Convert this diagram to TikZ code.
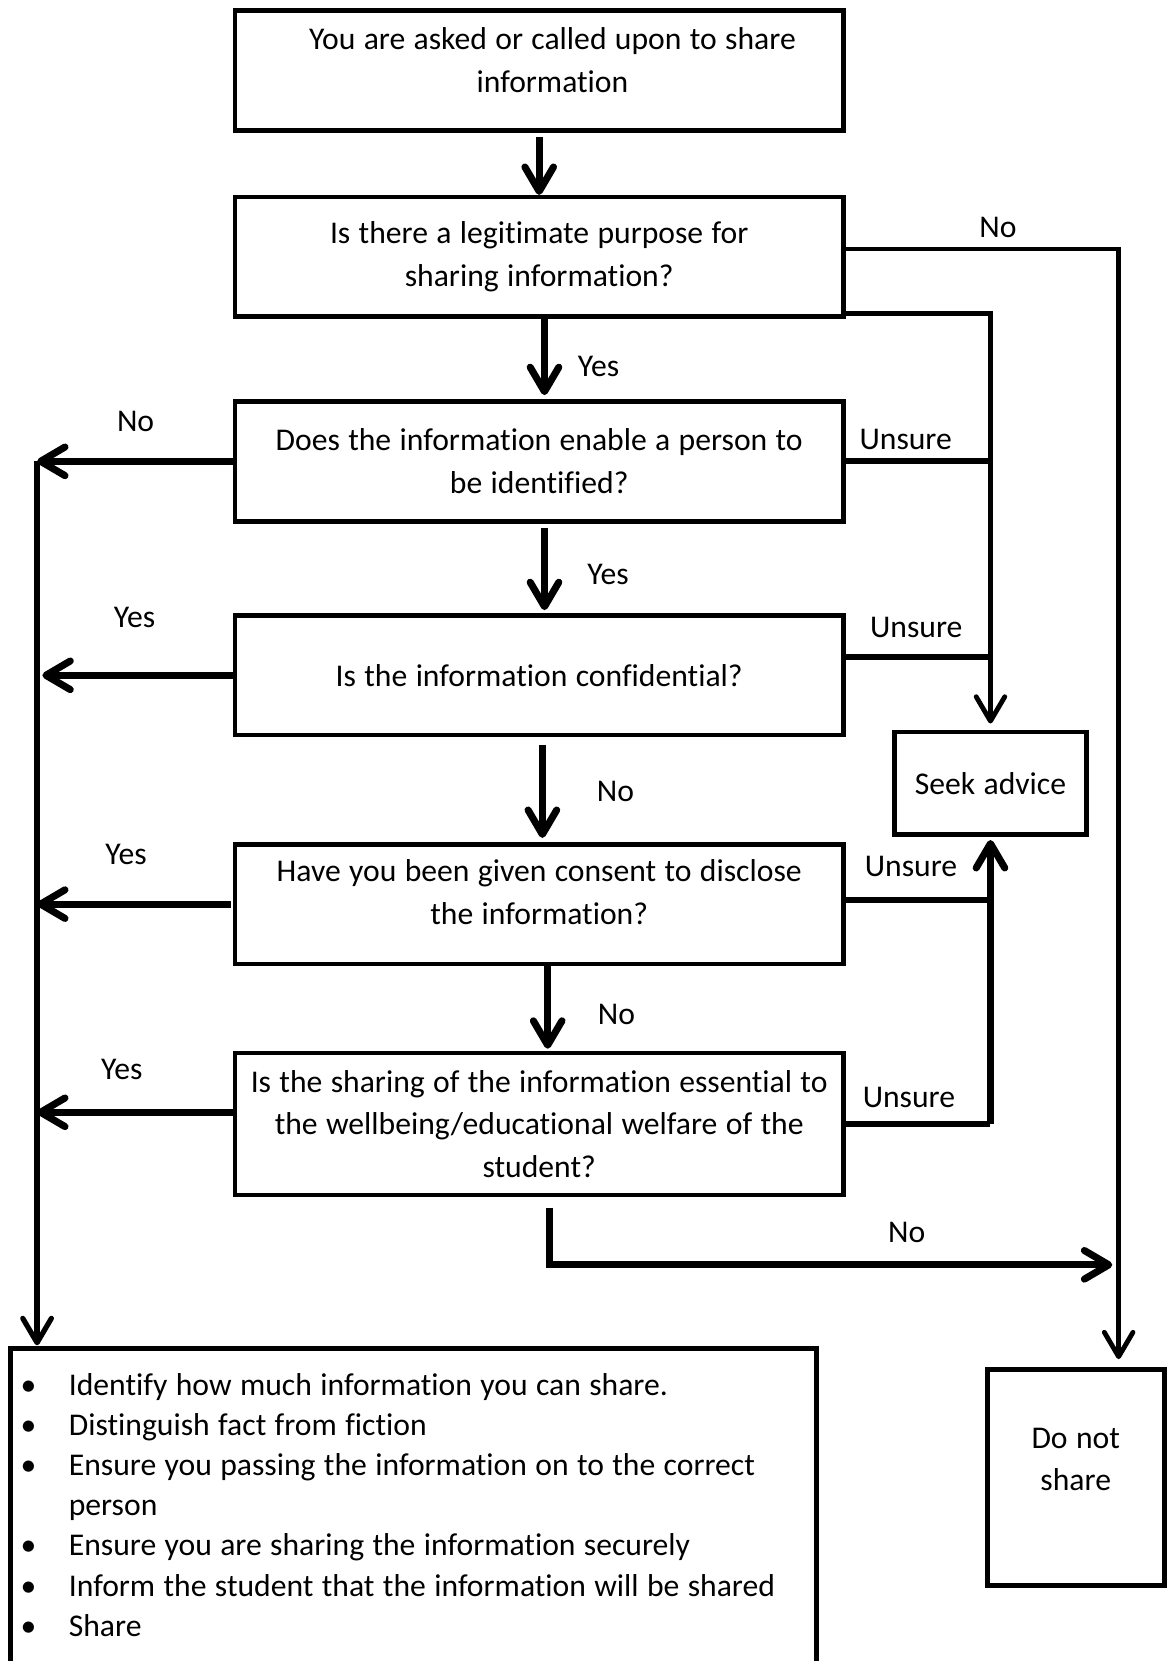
\documentclass[tikz,border=0pt]{standalone}
\usepackage{fontspec}
\setmainfont{Carlito}[Ligatures=NoCommon]
\usepackage{tikz}
\usetikzlibrary{arrows.meta, positioning, calc}

\newcommand{\flowfont}{\fontsize{17}{22.8}\selectfont}
\newcommand{\listfont}{\fontsize{17}{21.6}\selectfont}
\newcommand{\shareitem}[1]{\par\hangindent=1.1cm\hangafter=1\noindent\makebox[1.1cm][l]{\hspace{0.19cm}\textbullet}#1}

\begin{document}
\begin{tikzpicture}[
    every node/.style={execute at begin node={\spaceskip=4.5pt plus 1pt minus 0.5pt\relax}},
    question/.style={
        rectangle, draw=black, line width=2.5pt, outer sep=0pt,
        minimum width=11.48cm, minimum height=#1,
        text width=11.2cm, align=flush center, inner sep=0pt, font=\flowfont
    },
    question/.default=2.26cm,
    outcome/.style={
        rectangle, draw=black, line width=2.5pt, outer sep=0pt,
        align=center, inner sep=0pt, font=\flowfont
    },
    listbox/.style={
        rectangle, draw=black, line width=2.5pt, outer sep=0pt,
        text width=15.22cm, inner xsep=0pt, inner ysep=0.12cm,
        align=flush left, font=\listfont
    },
    answer/.style={font=\flowfont, inner sep=0pt},
    arr/.style={-{Straight Barb[length=4.6mm, width=5.4mm, round]}, line width=3.8pt},
    arrthin/.style={-{Straight Barb[length=4.6mm, width=5.4mm, round]}, line width=2.6pt},
    link/.style={line width=3.2pt}
]

% Page frame
\useasboundingbox (0,0) rectangle (22.02,-31.36);

% Question chain
\node[question, anchor=north west] (ask) at (4.44,-0.2)
    {\hspace*{0.5cm}You are asked or called upon to share\\\hspace*{0.5cm}information\rule[-0.4cm]{0pt}{0pt}};
\node[question, below=1.26cm of ask] (purpose)
    {Is there a legitimate purpose for\\sharing information?};
\node[question, below=1.6cm of purpose] (ident)
    {Does the information enable a person to\\be identified?};
\node[question, below=1.78cm of ident] (confid)
    {Is the information confidential?};
\node[question, below=2.06cm of confid] (consent)
    {Have you been given consent to disclose\\the information?\rule[-0.46cm]{0pt}{0pt}};
\node[question=2.68cm, below=1.68cm of consent] (essential)
    {Is the sharing of the information essential to\\the wellbeing/educational welfare of the\\student?};

% Outcomes
\node[outcome, minimum width=3.62cm, minimum height=1.94cm] (seek) at (18.7,-14.79)
    {Seek advice};
\node[outcome, minimum width=3.34cm, minimum height=4.08cm] (noshare) at (20.31,-27.9)
    {Do not\\share\rule[-0.7cm]{0pt}{0pt}};
\node[listbox, anchor=north west] (todo) at (0.2,-25.46) {%
    \shareitem{Identify how much information you can share.}
    \shareitem{Distinguish fact from fiction}
    \shareitem{Ensure you passing the information on to the correct\newline person}
    \shareitem{Ensure you are sharing the information securely}
    \shareitem{Inform the student that the information will be shared}
    \shareitem{Share\rule[-2cm]{0pt}{0pt}}};

% Rails
\coordinate (lrail) at (0.7,0);
\coordinate (nojoin) at (21.0,-23.88);

% Down the chain
\draw[arr, shorten <=0.12cm, shorten >=0.04cm] (ask.south) -- (purpose.north);
\draw[arr, shorten <=0.04cm, shorten >=0.12cm] ([xshift=0.1cm]purpose.south) -- ([xshift=0.1cm]ident.north);
\draw[arr, shorten <=0.12cm, shorten >=0.1cm] ([xshift=0.1cm]ident.south) -- ([xshift=0.1cm]confid.north);
\draw[arr, shorten <=0.18cm, shorten >=0.12cm] ([xshift=0.06cm]confid.south) -- ([xshift=0.06cm]consent.north);
\draw[arr, shorten <=0.04cm, shorten >=0.08cm] ([xshift=0.16cm]consent.south) -- ([xshift=0.16cm]essential.north);
\draw[arr] ([xshift=0.2cm, yshift=-0.24cm]essential.south) |- (nojoin);

\node[answer] at (11.3,-6.92) {Yes};
\node[answer] at (11.48,-10.84) {Yes};
\node[answer] at (11.62,-14.94) {No};
\node[answer] at (11.64,-19.16) {No};
\node[answer] at (17.12,-23.26) {No};

% Left side: share
\draw[arr] (ident.west) -- (ident.west -| lrail);
\draw[arr] (confid.west) -- ([xshift=0.1cm]confid.west -| lrail);
\draw[arr] ([xshift=-0.08cm]consent.west) -- (consent.west -| lrail);
\draw[arr] ([yshift=0.22cm]essential.west) -- ([yshift=0.22cm]essential.west -| lrail);
\draw[arrthin, line width=2.8pt, shorten >=0.06cm] (ident.west -| lrail) -- (lrail |- todo.north);

\node[answer] at (2.56,-7.96) {No};
\node[answer] at (2.54,-11.66) {Yes};
\node[answer] at (2.38,-16.14) {Yes};
\node[answer] at (2.3,-20.2) {Yes};

% Right side: seek advice
\draw[arrthin, shorten >=0.16cm] ([yshift=0.06cm]purpose.south east) -| (seek.north);
\draw[link] (ident.east) -- (ident.east -| seek.north);
\draw[link] ([yshift=0.34cm]confid.east) -- ([yshift=0.34cm]confid.east -| seek.north);
\draw[link] ([yshift=0.08cm]consent.east) -- ([yshift=0.08cm]consent.east -| seek.south);
\draw[link] (essential.east) -- (essential.east -| seek.south);
\draw[arr, shorten >=0.1cm] (essential.east -| seek.south) -- (seek.south);

\node[answer] at (17.1,-8.3) {Unsure};
\node[answer] at (17.3,-11.84) {Unsure};
\node[answer] at (17.2,-16.36) {Unsure};
\node[answer] at (17.16,-20.72) {Unsure};

% Right side: do not share
\draw[arrthin, shorten >=0.2cm] ([yshift=0.15cm]purpose.east) -| ([xshift=0.81cm]noshare.north);
\node[answer] at (18.84,-4.3) {No};

\end{tikzpicture}
\end{document}
